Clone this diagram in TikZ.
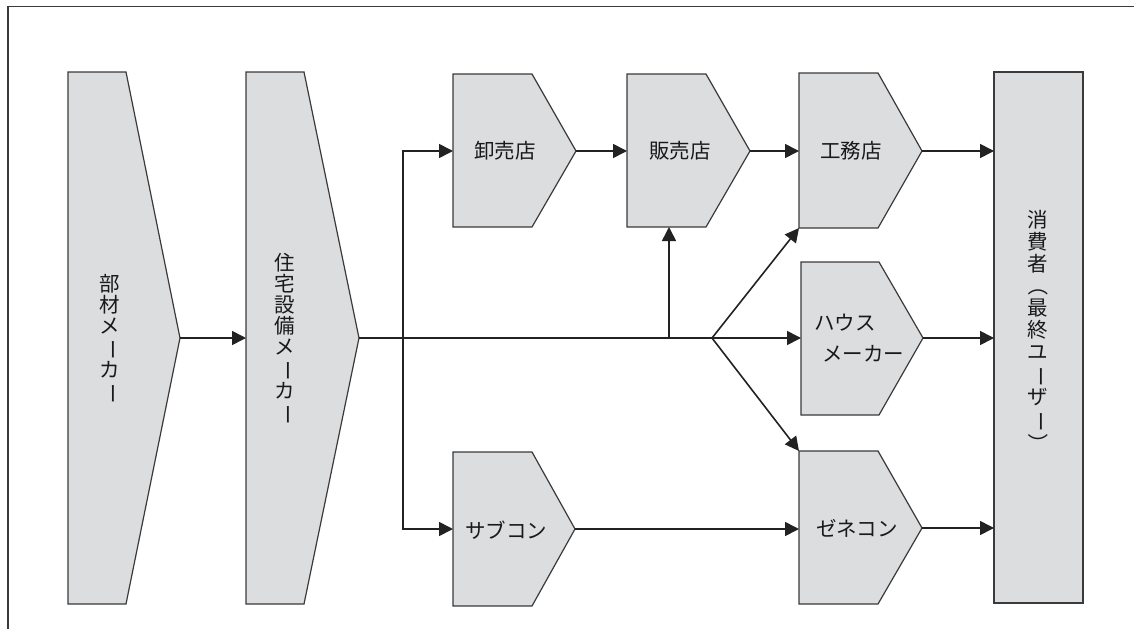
\documentclass[tikz,border=0pt]{standalone}
\usepackage{fontspec}
\usepackage{graphicx}
\setmainfont{Noto Sans CJK JP}
\usetikzlibrary{arrows.meta}
\definecolor{boxfill}{HTML}{DCDDDF}
\definecolor{linecol}{HTML}{222222}
\definecolor{edgecol}{HTML}{3A3A3A}
\newcommand{\tatebar}{\rotatebox[origin=c]{-90}{ー}}
\newcommand{\tatel}{\rotatebox[origin=c]{-90}{（}}
\newcommand{\tater}{\rotatebox[origin=c]{-90}{）}}
\begin{document}
\begin{tikzpicture}[x=1pt,y=-1pt,
  shapebox/.style={fill=boxfill,draw=edgecol,line width=1.2pt,line join=miter},
  conn/.style={draw=linecol,line width=1.6pt,-{Triangle[length=14pt,width=14pt]}},
  plainline/.style={draw=linecol,line width=1.6pt},
  lbl/.style={font=\fontsize{20.5}{21}\selectfont,text=black!90,inner sep=0pt},
  vlbl/.style={lbl,align=center}]
\useasboundingbox (0,0) rectangle (1134,629);
\draw[line width=1.1pt,draw=edgecol] (1134,6.5) -- (8,6.5) -- (8,629);

% tall pentagons
\draw[shapebox] (68,72) -- (126,72) -- (180,338) -- (126,604) -- (68,604) -- cycle;
\coordinate (buzai-out) at (180,338);
\node[vlbl] (buzai) at (110,339) {部\\材\\メ\\\tatebar\\カ\\\tatebar};

\draw[shapebox] (246,72) -- (304,72) -- (359,338) -- (304,604) -- (246,604) -- cycle;
\coordinate (jutaku-in) at (246,338);
\coordinate (jutaku-out) at (359,338);
\node[vlbl] (jutaku) at (285,339) {住\\宅\\設\\備\\メ\\\tatebar\\カ\\\tatebar};

% small pentagons
\draw[shapebox] (453,74) -- (532,74) -- (576,151) -- (532,227) -- (453,227) -- cycle;
\coordinate (oroshi-in) at (453,151);
\coordinate (oroshi-out) at (576,151);
\node[lbl] (oroshi) at (505,151) {卸売店};

\draw[shapebox] (627,74) -- (706,74) -- (750,151) -- (706,227) -- (627,227) -- cycle;
\coordinate (hanbai-in) at (627,151);
\coordinate (hanbai-out) at (750,151);
\coordinate (hanbai-bot) at (669,227);
\node[lbl] (hanbai) at (680,151) {販売店};

\draw[shapebox] (799,73) -- (878,73) -- (922,151) -- (878,228) -- (799,228) -- cycle;
\coordinate (koumu-in) at (799,151);
\coordinate (koumu-out) at (922,151);
\coordinate (koumu-corner) at (799,228);
\node[lbl] (koumu) at (851,151) {工務店};

\draw[shapebox] (801,262) -- (879,262) -- (923,338) -- (879,415) -- (801,415) -- cycle;
\coordinate (house-in) at (801,338);
\coordinate (house-out) at (923,338);
\node[lbl,align=left,anchor=west,font=\fontsize{20.5}{31}\selectfont] (house) at (814,338) {ハウス\\\hspace{8pt}メーカー};

\draw[shapebox] (453,452) -- (532,452) -- (575,529) -- (532,606) -- (453,606) -- cycle;
\coordinate (sub-in) at (453,529);
\coordinate (sub-out) at (575,529);
\node[lbl] (sub) at (506,530) {サブコン};

\draw[shapebox] (799,451) -- (878,451) -- (922,528) -- (878,604) -- (799,604) -- cycle;
\coordinate (zene-in) at (799,529);
\coordinate (zene-out) at (922,528);
\coordinate (zene-corner) at (799,451);
\node[lbl] (zene) at (857,528) {ゼネコン};

% consumer
\draw[shapebox] (994,72) rectangle (1083,603);
\node[vlbl,font=\fontsize{20.5}{22}\selectfont] (shohi) at (1038,332) {消\\費\\者\\\tatel\\最\\終\\ユ\\\tatebar\\ザ\\\tatebar\\\tater};
\coordinate (shohi-a) at (994,151);
\coordinate (shohi-b) at (994,338);
\coordinate (shohi-c) at (994,528);

% junctions
\coordinate (branch) at (712,338);
\coordinate (upj) at (669,338);
\coordinate (vtop) at (403,151);
\coordinate (vbot) at (403,529);

% connectors
\draw[conn] (buzai-out) -- (jutaku-in);
\draw[plainline] (jutaku-out) -- (branch);
\draw[conn] (vbot) -- (vtop) -- (oroshi-in);
\draw[conn] (vtop |- jutaku-out) -- (vbot) -- (sub-in);
\draw[conn] (upj) -- (hanbai-bot);
\draw[conn] (oroshi-out) -- (hanbai-in);
\draw[conn] (hanbai-out) -- (koumu-in);
\draw[conn] (branch) -- (koumu-corner);
\draw[conn] (branch) -- (house-in);
\draw[conn] (branch) -- (zene-corner);
\draw[conn] (sub-out) -- (zene-in);
\draw[conn] (koumu-out) -- (shohi-a);
\draw[conn] (house-out) -- (shohi-b);
\draw[conn] (zene-out) -- (shohi-c);
\end{tikzpicture}
\end{document}
